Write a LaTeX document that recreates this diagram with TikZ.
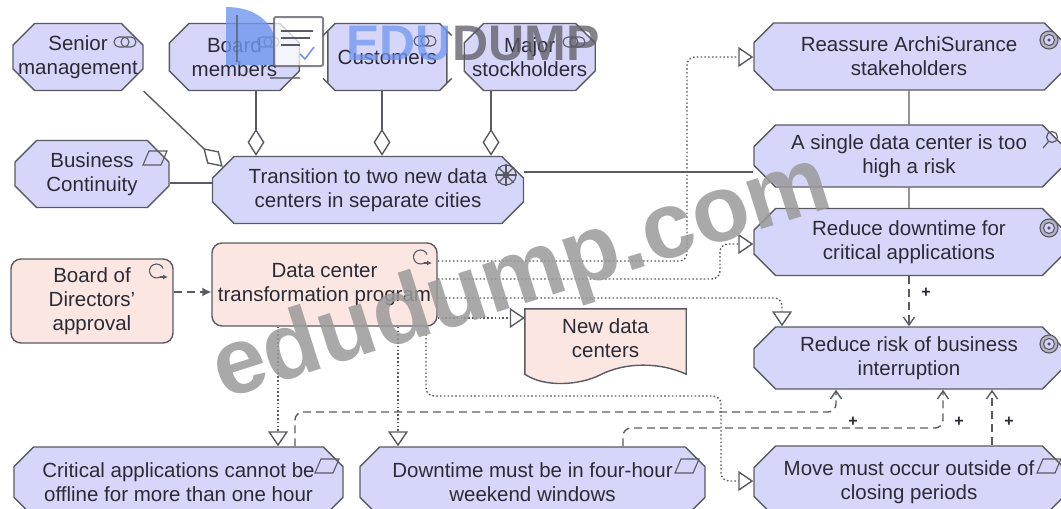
\documentclass[tikz,border=0pt]{standalone}
\usepackage{fontspec}
\setmainfont{Liberation Sans}
\usepackage{tikz}
\usetikzlibrary{shapes,arrows.meta,positioning}
\definecolor{boxblue}{HTML}{D6D6FA}
\definecolor{boxpink}{HTML}{FBE6E2}
\definecolor{boxline}{HTML}{5A5A62}
\definecolor{boxtext}{HTML}{2B2B36}
\definecolor{markgray}{HTML}{9A9A9A}
\definecolor{markblue}{HTML}{6F96EE}

\begin{document}
\begin{tikzpicture}[x=1pt, y=-1pt, font=\fontsize{20.5}{24}\selectfont, text=boxtext]
        % Define block styles
        \tikzstyle{bluenode} = [chamfered rectangle, chamfered rectangle xsep=13pt, chamfered rectangle ysep=12pt, inner xsep=-13pt, inner ysep=-12pt, draw=boxline, fill=boxblue, line width=1.4pt, align=center]
        \tikzstyle{pinknode} = [rectangle, rounded corners=10pt, draw=boxline, fill=boxpink, line width=1.4pt, align=center, inner sep=0pt]
        \tikzstyle{solid line} = [draw=boxline, line width=1.4pt]
        \tikzstyle{diamond line} = [solid line, -{Diamond[open, fill=white, length=27pt, width=17pt]}]
        \tikzstyle{real line} = [draw=boxline, line width=1.4pt, dash pattern=on 1.6pt off 2.2pt, rounded corners=8pt, -{Triangle[open, fill=white, length=15pt, width=20pt]}]
        \tikzstyle{infl line} = [draw=boxline, line width=1.4pt, dash pattern=on 8pt off 5pt, rounded corners=8pt, -{Straight Barb[length=8pt, width=11pt]}]
        \tikzstyle{plus} = [font=\fontsize{16}{16}\selectfont\bfseries, inner sep=0pt]
        \tikzset{
            roleicon/.pic={\draw[boxline, line width=1.1pt, rounded corners=5pt] (-11,-5) rectangle (4,5); \draw[boxline, line width=1.1pt, rounded corners=5pt] (-4,-5) rectangle (11,5);},
            dataicon/.pic={\draw[boxline, line width=1.1pt] (-12,7) -- (-6,-7) -- (12,-7) -- (6,7) -- cycle;},
            goalicon/.pic={\draw[boxline, line width=1.1pt, fill=boxblue!60!gray] (0,0) circle (9); \draw[boxline, line width=1.1pt, fill=boxblue] (0,0) circle (5.5); \fill[boxline] (0,0) circle (1.8);},
            findicon/.pic={\draw[boxline, line width=1.2pt] (2,-3) circle (5.5); \draw[boxline, line width=1.2pt] (-1.5,1.5) -- (-7,8);},
            eventicon/.pic={\draw[boxline, line width=1.1pt] (4,3) arc[start angle=60, end angle=340, radius=7]; \draw[boxline, line width=1.1pt, -{Latex[length=5pt, width=5pt]}] (4,3) -- (12,3);},
            wheelicon/.pic={\draw[boxline, line width=1.1pt] (0,0) circle (10) (0,0) circle (3); \foreach \a in {0,45,...,315} {\draw[boxline, line width=1.1pt] (0,0) -- (\a:11);}}
        }

        % Define nodes
        \useasboundingbox (0,0) rectangle (1061,509);
        \node [bluenode, minimum width=130pt, minimum height=67pt] (Senior) at (78,57) {Senior\\management};
        \node [bluenode, minimum width=130pt, minimum height=67pt, right=25pt of Senior] (Board) {Board\\members};
        \node [bluenode, minimum width=119pt, minimum height=67pt, right=27pt of Board] (Customers) {Customers};
        \node [bluenode, minimum width=131pt, minimum height=67pt, right=16pt of Customers] (Major) {Major\\stockholders};
        \node [bluenode, minimum width=154pt, minimum height=67pt] (Continuity) at (92,174) {Business\\Continuity};
        \node [bluenode, minimum width=311pt, minimum height=67pt] (Transition) at (368,190) {Transition to two new data\\centers in separate cities};
        \node [pinknode, minimum width=162pt, minimum height=84pt] (Approval) at (92,301) {Board of\\Directors'\\approval};
        \node [pinknode, minimum width=225pt, minimum height=83pt] (Program) at (324.5,284.5) {Data center\\transformation program};
        \node [inner sep=0pt, minimum width=161pt, minimum height=65pt, align=center] (Centers) at (605.5,341.5) {};
        \draw[draw=boxline, fill=boxpink, line width=1.4pt] (Centers.north west) -- (Centers.north east) -- (Centers.south east) .. controls (660,362) and (625,362) .. (600,375) .. controls (580,385) and (545,388) .. (Centers.south west) -- cycle;
        \node [inner sep=0pt, align=center] (CentersText) at (605.5,338) {New data\\centers};
        \node [bluenode, minimum width=310pt, minimum height=67pt] (Reassure) at (909,56.5) {Reassure ArchiSurance\\stakeholders};
        \node [bluenode, minimum width=310pt, minimum height=62pt] (Single) at (909,156) {A single data center is too\\high a risk};
        \node [bluenode, minimum width=310pt, minimum height=67pt] (Reduce) at (909,242) {Reduce downtime for\\critical applications};
        \node [bluenode, minimum width=310pt, minimum height=62pt] (Risk) at (909,358) {Reduce risk of business\\interruption};
        \node [bluenode, minimum width=329pt, minimum height=70pt] (Critical) at (178.5,482) {Critical applications cannot be\\offline for more than one hour};
        \node [bluenode, minimum width=345pt, minimum height=70pt] (Downtime) at (532.5,482) {Downtime must be in four-hour\\weekend windows};
        \node [bluenode, minimum width=310pt, minimum height=72pt] (Move) at (909,482) {Move must occur outside of\\closing periods};

        % Icons
        \pic at (125,42) {roleicon};
        \pic at (268,42) {roleicon};
        \pic at (425,41) {roleicon};
        \pic at (574,42) {roleicon};
        \pic at (155,158) {dataicon};
        \pic at (327,466) {dataicon};
        \pic at (687,466) {dataicon};
        \pic at (1049,466) {dataicon};
        \pic at (1049,40) {goalicon};
        \pic at (1049,228) {goalicon};
        \pic at (1049,344) {goalicon};
        \pic at (1050,140) {findicon};
        \pic at (506,175) {wheelicon};
        \pic at (156,274) {eventicon};
        \pic at (420,260) {eventicon};

        % Connect nodes with paths
        \draw[solid line] (Reassure) -- (Single);
        \draw[solid line] (Single) -- (Reduce);
        \draw[solid line] (Continuity.east |- 0,183) -- (Transition.west |- 0,183);
        \draw[solid line] (Transition.east |- 0,172) -- (Single.west |- 0,172);
        \draw[diamond line] (Senior.east |- Senior.south) -- (Transition.north west);
        \draw[diamond line] (256,0 |- Board.south) -- (256,0 |- Transition.north);
        \draw[diamond line] (382,0 |- Customers.south) -- (382,0 |- Transition.north);
        \draw[diamond line] (491,0 |- Major.south) -- (491,0 |- Transition.north);

        \draw[real line] (Program.east |- 0,261) -- (687,261) |- (Reassure.west |- 0,57);
        \draw[real line] (Program.east |- 0,279) -- (720,279) |- (Reduce.west |- 0,244);
        \draw[real line] (Program.east |- 0,298) -| (782,0 |- Risk.north);
        \draw[real line] (Program.east |- 0,318) -- (Centers.west |- 0,318);
        \draw[real line] (278,0 |- Program.south) -- (278,0 |- Critical.north);
        \draw[real line] (398,0 |- Program.south) -- (398,0 |- Downtime.north);
        \draw[real line] (426,0 |- Program.south) |- (721,396) |- (Move.west |- 0,481);

        \draw[draw=boxline, line width=1.4pt, dash pattern=on 8pt off 5pt, -{Latex[length=9pt, width=9pt]}] (Approval.east |- 0,292) -- (Program.west |- 0,292);
        \draw[infl line] (Reduce.south) -- (Risk.north);
        \draw[infl line] (295,0 |- Critical.north) |- (836,412) -- (836,0 |- Risk.south);
        \draw[infl line] (623,0 |- Downtime.north) |- (943,428) -- (943,0 |- Risk.south);
        \draw[infl line] (992,0 |- Move.north) -- (992,0 |- Risk.south);
        \node [plus] (p1) at (926,293) {+};
        \node [plus] (p2) at (853,422) {+};
        \node [plus] (p3) at (959,422) {+};
        \node [plus] (p4) at (1009,422) {+};

        % Site marks lying over the picture
        \fill[markblue, opacity=.8] (226,7) .. controls (255,7) and (274,22) .. (276,45) -- (276,65) -- (226,65) -- cycle;
        \draw[draw=boxline, line width=2pt, opacity=.7] (237,15) -- (237,62) (270,78) -- (300,78);
        \draw[draw=boxline, line width=2pt, fill=white, rounded corners=2pt, opacity=.75] (274,17) rectangle (323,66);
        \draw[draw=boxline, line width=1.2pt] (281,31) -- (313,31) (281,38) -- (310,38) (281,45) -- (300,45);
        \draw[draw=markblue, line width=1.5pt] (300,54) -- (305,59) -- (314,47);
        \node [font=\fontsize{50}{50}\selectfont\bfseries, text=markblue, text opacity=.75, inner sep=0pt, anchor=west] (EDU) at (346,44) {EDU};
        \node [font=\fontsize{50}{50}\selectfont\bfseries, text=boxline, text opacity=.75, inner sep=0pt, right=0pt of EDU] (DUMP) {DUMP};
        \node [font=\fontsize{94}{94}\selectfont\bfseries, text=markgray, text opacity=.85, inner sep=0pt, rotate=17.5] (Mark) at (522,280) {edudump.com};

    \end{tikzpicture}
\end{document}
